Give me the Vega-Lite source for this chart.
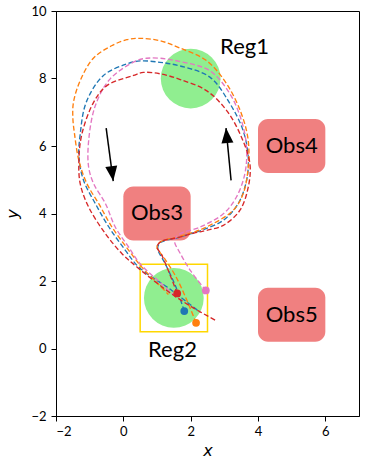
{
  "$schema": "https://vega.github.io/schema/vega-lite/v6.json",
  "width": 303,
  "height": 405,
  "autosize": {"type": "none"},
  "padding": {"left": 56, "top": 11, "right": 12, "bottom": 46},
  "background": "white",
  "config": {
    "view": {"stroke": "black", "strokeWidth": 1},
    "axis": {"grid": false, "domainColor": "black", "tickColor": "black", "labelColor": "black", "labelFont": "Lato", "labelFontSize": 13, "titleFont": "DejaVu Sans", "titleFontStyle": "italic", "titleFontWeight": "normal", "titleFontSize": 16, "titleColor": "black", "tickSize": 5, "domainWidth": 1}
  },
  "datasets": {
    "regions": [
      {"name": "Reg1", "x": 2, "y": 8},
      {"name": "Reg2", "x": 1.5, "y": 1.5}
    ],
    "obstacles": [
      {"name": "Obs3", "x0": 0, "x1": 2, "y0": 3.2, "y1": 4.8},
      {"name": "Obs4", "x0": 4, "x1": 6, "y0": 5.2, "y1": 6.8},
      {"name": "Obs5", "x0": 4, "x1": 6, "y0": 0.2, "y1": 1.8}
    ],
    "box": [{"x0": 0.5, "x1": 2.5, "y0": 0.5, "y1": 2.5}],
    "labels": [
      {"label": "Reg1", "x": 3.6, "y": 8.93},
      {"label": "Reg2", "x": 1.46, "y": -0.05},
      {"label": "Obs3", "x": 1.0, "y": 4.02},
      {"label": "Obs4", "x": 5.0, "y": 6.0},
      {"label": "Obs5", "x": 5.0, "y": 1.0}
    ],
    "arrowDown": [{"x": -0.51, "y": 6.53, "x2": -0.3, "y2": 4.96}],
    "arrowUp": [{"x": 3.2, "y": 4.98, "x2": 3.05, "y2": 6.53}],
    "starts": [
      {"traj": "blue", "x": 1.81, "y": 1.11},
      {"traj": "orange", "x": 2.16, "y": 0.76},
      {"traj": "pink", "x": 2.45, "y": 1.72},
      {"traj": "red", "x": 1.6, "y": 1.63}
    ],
    "paths": [
      {"traj": "blue", "i": 1, "x": 1.81, "y": 1.11},
      {"traj": "blue", "i": 2, "x": 1.55, "y": 1.85},
      {"traj": "blue", "i": 3, "x": 1.25, "y": 2.5},
      {"traj": "blue", "i": 4, "x": 1.02, "y": 2.97},
      {"traj": "blue", "i": 5, "x": 1.1, "y": 3.14},
      {"traj": "blue", "i": 6, "x": 1.6, "y": 3.28},
      {"traj": "blue", "i": 7, "x": 2.0, "y": 3.4},
      {"traj": "blue", "i": 8, "x": 2.37, "y": 3.52},
      {"traj": "blue", "i": 9, "x": 2.97, "y": 3.8},
      {"traj": "blue", "i": 10, "x": 3.41, "y": 4.29},
      {"traj": "blue", "i": 11, "x": 3.66, "y": 4.98},
      {"traj": "blue", "i": 12, "x": 3.71, "y": 5.67},
      {"traj": "blue", "i": 13, "x": 3.56, "y": 6.45},
      {"traj": "blue", "i": 14, "x": 3.17, "y": 7.25},
      {"traj": "blue", "i": 15, "x": 2.57, "y": 8.04},
      {"traj": "blue", "i": 16, "x": 1.69, "y": 8.37},
      {"traj": "blue", "i": 17, "x": 1.09, "y": 8.48},
      {"traj": "blue", "i": 18, "x": 0.5, "y": 8.52},
      {"traj": "blue", "i": 19, "x": 0.1, "y": 8.43},
      {"traj": "blue", "i": 20, "x": -0.59, "y": 8.09},
      {"traj": "blue", "i": 21, "x": -1.1, "y": 7.3},
      {"traj": "blue", "i": 22, "x": -1.28, "y": 6.36},
      {"traj": "blue", "i": 23, "x": -1.32, "y": 5.67},
      {"traj": "blue", "i": 24, "x": -1.18, "y": 4.98},
      {"traj": "blue", "i": 25, "x": -0.83, "y": 4.29},
      {"traj": "blue", "i": 26, "x": -0.43, "y": 3.6},
      {"traj": "blue", "i": 27, "x": 0.06, "y": 2.91},
      {"traj": "blue", "i": 28, "x": 0.46, "y": 2.41},
      {"traj": "blue", "i": 29, "x": 1.44, "y": 1.72},
      {"traj": "blue", "i": 30, "x": 2.27, "y": 1.08},

      {"traj": "orange", "i": 1, "x": 2.16, "y": 0.76},
      {"traj": "orange", "i": 2, "x": 1.9, "y": 1.4},
      {"traj": "orange", "i": 3, "x": 1.55, "y": 2.15},
      {"traj": "orange", "i": 4, "x": 1.2, "y": 2.7},
      {"traj": "orange", "i": 5, "x": 1.0, "y": 3.0},
      {"traj": "orange", "i": 6, "x": 1.1, "y": 3.16},
      {"traj": "orange", "i": 7, "x": 1.6, "y": 3.3},
      {"traj": "orange", "i": 8, "x": 2.1, "y": 3.45},
      {"traj": "orange", "i": 9, "x": 2.47, "y": 3.6},
      {"traj": "orange", "i": 10, "x": 3.26, "y": 4.09},
      {"traj": "orange", "i": 11, "x": 3.56, "y": 4.59},
      {"traj": "orange", "i": 12, "x": 3.71, "y": 5.37},
      {"traj": "orange", "i": 13, "x": 3.71, "y": 6.16},
      {"traj": "orange", "i": 14, "x": 3.51, "y": 6.95},
      {"traj": "orange", "i": 15, "x": 3.07, "y": 7.84},
      {"traj": "orange", "i": 16, "x": 2.47, "y": 8.53},
      {"traj": "orange", "i": 17, "x": 1.69, "y": 8.9},
      {"traj": "orange", "i": 18, "x": 1.09, "y": 9.12},
      {"traj": "orange", "i": 19, "x": 0.5, "y": 9.19},
      {"traj": "orange", "i": 20, "x": 0.1, "y": 9.15},
      {"traj": "orange", "i": 21, "x": -0.35, "y": 8.97},
      {"traj": "orange", "i": 22, "x": -0.89, "y": 8.6},
      {"traj": "orange", "i": 23, "x": -1.28, "y": 7.94},
      {"traj": "orange", "i": 24, "x": -1.48, "y": 7.3},
      {"traj": "orange", "i": 25, "x": -1.5, "y": 6.85},
      {"traj": "orange", "i": 26, "x": -1.45, "y": 6.36},
      {"traj": "orange", "i": 27, "x": -1.32, "y": 5.57},
      {"traj": "orange", "i": 28, "x": -1.08, "y": 4.88},
      {"traj": "orange", "i": 29, "x": -0.73, "y": 4.29},
      {"traj": "orange", "i": 30, "x": -0.34, "y": 3.6},
      {"traj": "orange", "i": 31, "x": 0.16, "y": 2.91},
      {"traj": "orange", "i": 32, "x": 0.55, "y": 2.41},
      {"traj": "orange", "i": 33, "x": 1.0, "y": 1.95},
      {"traj": "orange", "i": 34, "x": 1.34, "y": 1.6},

      {"traj": "pink", "i": 1, "x": 2.45, "y": 1.72},
      {"traj": "pink", "i": 2, "x": 2.0, "y": 2.3},
      {"traj": "pink", "i": 3, "x": 1.7, "y": 2.8},
      {"traj": "pink", "i": 4, "x": 1.52, "y": 3.2},
      {"traj": "pink", "i": 5, "x": 1.65, "y": 3.38},
      {"traj": "pink", "i": 6, "x": 2.28, "y": 3.6},
      {"traj": "pink", "i": 7, "x": 2.97, "y": 3.99},
      {"traj": "pink", "i": 8, "x": 3.36, "y": 4.49},
      {"traj": "pink", "i": 9, "x": 3.61, "y": 5.18},
      {"traj": "pink", "i": 10, "x": 3.66, "y": 5.96},
      {"traj": "pink", "i": 11, "x": 3.51, "y": 6.75},
      {"traj": "pink", "i": 12, "x": 3.17, "y": 7.54},
      {"traj": "pink", "i": 13, "x": 2.57, "y": 8.23},
      {"traj": "pink", "i": 14, "x": 1.69, "y": 8.5},
      {"traj": "pink", "i": 15, "x": 1.09, "y": 8.6},
      {"traj": "pink", "i": 16, "x": 0.69, "y": 8.6},
      {"traj": "pink", "i": 17, "x": 0.4, "y": 8.53},
      {"traj": "pink", "i": 18, "x": -0.39, "y": 7.99},
      {"traj": "pink", "i": 19, "x": -0.83, "y": 7.2},
      {"traj": "pink", "i": 20, "x": -1.03, "y": 6.16},
      {"traj": "pink", "i": 21, "x": -1.03, "y": 5.37},
      {"traj": "pink", "i": 22, "x": -0.88, "y": 4.88},
      {"traj": "pink", "i": 23, "x": -0.53, "y": 4.29},
      {"traj": "pink", "i": 24, "x": -0.24, "y": 3.6},
      {"traj": "pink", "i": 25, "x": 0.16, "y": 3.0},
      {"traj": "pink", "i": 26, "x": 0.5, "y": 2.51},
      {"traj": "pink", "i": 27, "x": 1.1, "y": 1.95},
      {"traj": "pink", "i": 28, "x": 1.52, "y": 1.56},

      {"traj": "red", "i": 1, "x": 1.6, "y": 1.63},
      {"traj": "red", "i": 2, "x": 1.38, "y": 2.2},
      {"traj": "red", "i": 3, "x": 1.15, "y": 2.75},
      {"traj": "red", "i": 4, "x": 1.0, "y": 3.02},
      {"traj": "red", "i": 5, "x": 1.12, "y": 3.17},
      {"traj": "red", "i": 6, "x": 1.6, "y": 3.28},
      {"traj": "red", "i": 7, "x": 2.1, "y": 3.42},
      {"traj": "red", "i": 8, "x": 2.47, "y": 3.5},
      {"traj": "red", "i": 9, "x": 2.97, "y": 3.65},
      {"traj": "red", "i": 10, "x": 3.46, "y": 4.09},
      {"traj": "red", "i": 11, "x": 3.71, "y": 4.78},
      {"traj": "red", "i": 12, "x": 3.76, "y": 5.47},
      {"traj": "red", "i": 13, "x": 3.51, "y": 6.26},
      {"traj": "red", "i": 14, "x": 3.07, "y": 7.05},
      {"traj": "red", "i": 15, "x": 2.47, "y": 7.64},
      {"traj": "red", "i": 16, "x": 1.69, "y": 7.97},
      {"traj": "red", "i": 17, "x": 1.09, "y": 8.14},
      {"traj": "red", "i": 18, "x": 0.6, "y": 8.18},
      {"traj": "red", "i": 19, "x": 0.3, "y": 8.09},
      {"traj": "red", "i": 20, "x": -0.49, "y": 7.79},
      {"traj": "red", "i": 21, "x": -0.88, "y": 7.3},
      {"traj": "red", "i": 22, "x": -1.23, "y": 6.36},
      {"traj": "red", "i": 23, "x": -1.32, "y": 5.57},
      {"traj": "red", "i": 24, "x": -1.28, "y": 4.88},
      {"traj": "red", "i": 25, "x": -1.03, "y": 4.19},
      {"traj": "red", "i": 26, "x": -0.53, "y": 3.4},
      {"traj": "red", "i": 27, "x": -0.04, "y": 2.81},
      {"traj": "red", "i": 28, "x": 0.41, "y": 2.41},
      {"traj": "red", "i": 29, "x": 1.29, "y": 1.72},
      {"traj": "red", "i": 30, "x": 2.0, "y": 1.25},
      {"traj": "red", "i": 31, "x": 2.73, "y": 0.84}
    ]
  },
  "encoding": {
    "x": {"type": "quantitative", "scale": {"domain": [-2, 7], "nice": false, "zero": false}, "axis": {"values": [-2, 0, 2, 4, 6], "title": "x", "labelExpr": "replace(datum.label, '-', '\u2212')", "labelPadding": 4, "titlePadding": 4}},
    "y": {"type": "quantitative", "scale": {"domain": [-2, 10], "nice": false, "zero": false}, "axis": {"values": [-2, 0, 2, 4, 6, 8, 10], "title": "y", "labelExpr": "replace(datum.label, '-', '\u2212')", "labelPadding": 5, "titlePadding": 10}}
  },
  "layer": [
    {
      "data": {"name": "regions"},
      "mark": {"type": "point", "shape": "circle", "filled": true, "color": "#90EE90", "opacity": 1, "size": 3570},
      "encoding": {"x": {"field": "x", "type": "quantitative"}, "y": {"field": "y", "type": "quantitative"}}
    },
    {
      "data": {"name": "obstacles"},
      "mark": {"type": "rect", "color": "#F08080", "cornerRadius": 10},
      "encoding": {"x": {"field": "x0", "type": "quantitative"}, "x2": {"field": "x1"}, "y": {"field": "y0", "type": "quantitative"}, "y2": {"field": "y1"}}
    },
    {
      "data": {"name": "box"},
      "mark": {"type": "rect", "filled": false, "stroke": "#FFD700", "strokeWidth": 1.5, "fill": null},
      "encoding": {"x": {"field": "x0", "type": "quantitative"}, "x2": {"field": "x1"}, "y": {"field": "y0", "type": "quantitative"}, "y2": {"field": "y1"}}
    },
    {
      "data": {"name": "paths"},
      "mark": {"type": "line", "strokeDash": [5, 2.5], "strokeWidth": 1.35, "interpolate": "catmull-rom"},
      "encoding": {
        "x": {"field": "x", "type": "quantitative"},
        "y": {"field": "y", "type": "quantitative"},
        "order": {"field": "i", "type": "quantitative"},
        "color": {"field": "traj", "type": "nominal", "legend": null, "scale": {"domain": ["blue", "orange", "pink", "red"], "range": ["#1f77b4", "#ff7f0e", "#e377c2", "#d62728"]}}
      }
    },
    {
      "data": {"name": "starts"},
      "mark": {"type": "point", "shape": "circle", "filled": true, "opacity": 1, "size": 60},
      "encoding": {
        "x": {"field": "x", "type": "quantitative"},
        "y": {"field": "y", "type": "quantitative"},
        "color": {"field": "traj", "type": "nominal", "legend": null, "scale": {"domain": ["blue", "orange", "pink", "red"], "range": ["#1f77b4", "#ff7f0e", "#e377c2", "#d62728"]}}
      }
    },
    {
      "data": {"name": "arrowDown"},
      "mark": {"type": "rule", "color": "black", "strokeWidth": 1.5},
      "encoding": {"x": {"field": "x", "type": "quantitative"}, "y": {"field": "y", "type": "quantitative"}, "x2": {"field": "x2"}, "y2": {"field": "y2"}}
    },
    {
      "data": {"name": "arrowUp"},
      "mark": {"type": "rule", "color": "black", "strokeWidth": 1.5},
      "encoding": {"x": {"field": "x", "type": "quantitative"}, "y": {"field": "y", "type": "quantitative"}, "x2": {"field": "x2"}, "y2": {"field": "y2"}}
    },
    {
      "data": {"name": "arrowDown"},
      "mark": {"type": "point", "shape": "M0,0L-0.8,-2L0.8,-2Z", "filled": true, "color": "black", "opacity": 1, "size": 225, "angle": 352.4},
      "encoding": {"x": {"field": "x2", "type": "quantitative"}, "y": {"field": "y2", "type": "quantitative"}}
    },
    {
      "data": {"name": "arrowUp"},
      "mark": {"type": "point", "shape": "M0,0L-0.8,-2L0.8,-2Z", "filled": true, "color": "black", "opacity": 1, "size": 225, "angle": 174.5},
      "encoding": {"x": {"field": "x2", "type": "quantitative"}, "y": {"field": "y2", "type": "quantitative"}}
    },
    {
      "data": {"name": "labels"},
      "mark": {"type": "text", "font": "Lato", "fontSize": 22, "color": "black", "align": "center", "baseline": "middle"},
      "encoding": {"x": {"field": "x", "type": "quantitative"}, "y": {"field": "y", "type": "quantitative"}, "text": {"field": "label"}}
    }
  ]
}
